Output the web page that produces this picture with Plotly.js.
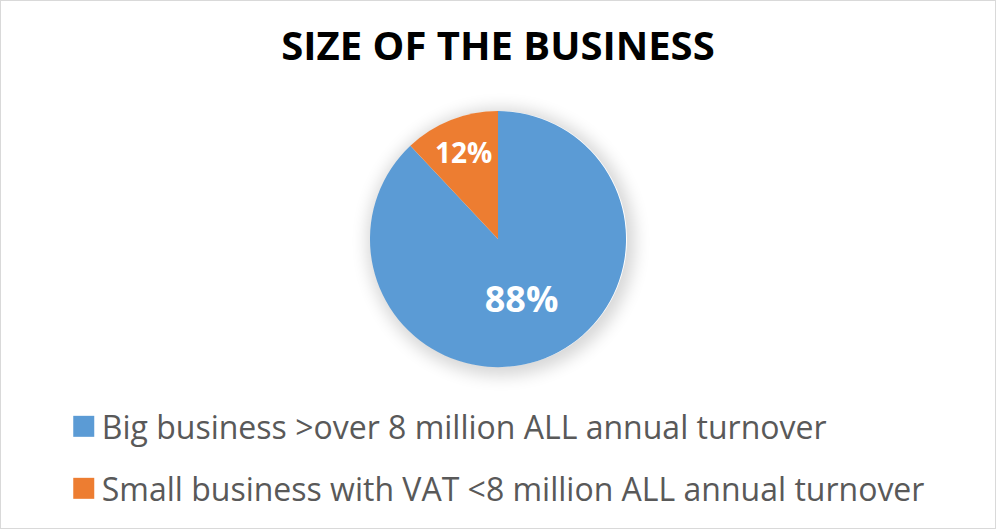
<!DOCTYPE html>
<html>
<head>
<meta charset="utf-8">
<script src="https://cdn.plot.ly/plotly-3.0.1.min.js"></script>
<style>
html,body{margin:0;padding:0;background:#fff;}
#wrap{position:relative;width:996px;height:529px;}
#shadow{position:absolute;left:371px;top:111px;width:256px;height:256px;border-radius:50%;
  box-shadow:2px 3px 16px 6px rgba(0,0,0,0.16);}
#chart{position:absolute;left:0;top:0;width:996px;height:529px;}
.legendpie{transform:translate(22px,0px) scale(1.75);}
</style>
</head>
<body>
<div id="wrap">
<div id="shadow"></div>
<div id="chart"></div>
</div>
<script>
const labels = ["Big business >over 8 million ALL annual turnover", "Small business with VAT <8 million ALL annual turnover"];
const values = [88, 12];
const colors = ["#5b9bd5", "#ed7d31"];
const chartTitle = "SIZE OF THE BUSINESS";

const data = [{
  type: "pie",
  labels: labels,
  values: values,
  sort: false,
  direction: "clockwise",
  rotation: 0,
  marker: {colors: colors, line: {width: 0}},
  textinfo: "percent",
  texttemplate: "%{percent:.0%}",
  textposition: "inside",
  insidetextorientation: "horizontal",
  insidetextfont: {family: "Open Sans", size: 36, color: "#ffffff", weight: "bold"},
  domain: {x: [0, 1], y: [0.306, 0.790]},
  hoverinfo: "label+percent"
}];

const layout = {
  width: 996, height: 529,
  margin: {l: 0, r: 0, t: 0, b: 0},
  paper_bgcolor: "rgba(0,0,0,0)",
  title: {text: "<b>" + chartTitle + "</b>", font: {family: "Open Sans", size: 40, color: "#000000"}, x: 0.5, xanchor: "center", y: 0.913, yanchor: "middle"},
  showlegend: true,
  legend: {
    orientation: "v",
    x: 0.062, xanchor: "left",
    y: 0.2457, yanchor: "top",
    font: {family: "Open Sans", size: 32, color: "#595959"},
    itemwidth: 30,
    traceorder: "normal"
  },
  shapes: [{type: "rect", xref: "paper", yref: "paper", x0: 0, x1: 1, y0: 0, y1: 1, line: {color: "#d9d9d9", width: 2}}]
};

Plotly.newPlot("chart", data, layout, {displayModeBar: false, staticPlot: true}).then(function (gd) {
  // spread the legend rows as in the reference (row pitch 62px)
  const items = gd.querySelectorAll(".legend .traces");
  if (items.length > 1) {
    const m = /translate\(\s*([-\d.]+)[ ,]+([-\d.]+)/.exec(items[0].getAttribute("transform") || "");
    if (m) {
      const x0 = parseFloat(m[1]), y0 = parseFloat(m[2]);
      for (let i = 1; i < items.length; i++) {
        items[i].setAttribute("transform", "translate(" + x0 + "," + (y0 + 62 * i) + ")");
      }
    }
  }
  gd.querySelectorAll(".legend [clip-path]").forEach(function (el) { el.removeAttribute("clip-path"); });
});
</script>
</body>
</html>
